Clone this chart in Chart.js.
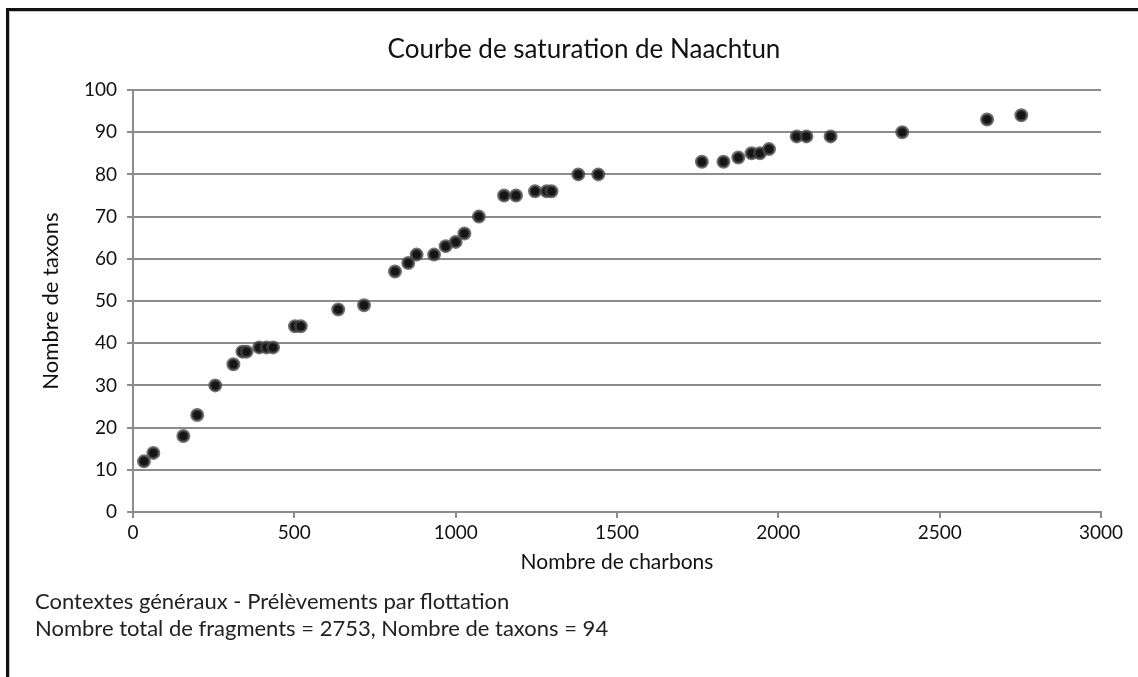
<!DOCTYPE html>
<html lang="fr">
<head>
<meta charset="utf-8">
<title>Courbe de saturation de Naachtun</title>
<script src="https://cdn.jsdelivr.net/npm/chart.js@4/dist/chart.umd.min.js"></script>
<style>
    html, body {
        margin: 0;
        padding: 0;
        background: #fff;
    }
    #page {
        position: relative;
        width: 1138px;
        height: 677px;
        overflow: hidden;
        font-family: Lato, "Open Sans", sans-serif;
        color: #111;
    }
    /* black frame on the left and top edges */
    #frame {
        position: absolute;
        left: 6px;
        top: 8px;
        width: 1140px;
        height: 680px;
        border-left: 3px solid #111;
        border-top: 3px solid #111;
        box-shadow: inset 1px 1px 0 #c4c4c4;
        pointer-events: none;
    }
    #chart-box {
        position: absolute;
        left: 0;
        top: 0;
        width: 1138px;
        height: 677px;
    }
    #chart-title {
        position: absolute;
        left: 284px;
        width: 600px;
        top: 32px;
        text-align: center;
        font-size: 26px;
        line-height: 32px;
    }
    #notes {
        position: absolute;
        left: 35px;
        top: 587px;
        font-size: 22px;
        line-height: 27px;
        color: #222;
    }
</style>
</head>
<body>
<div id="page">
    <div id="chart-box">
        <canvas id="saturation-chart" width="1138" height="677"></canvas>
    </div>
    <div id="frame"></div>
    <div id="chart-title"></div>
    <div id="notes">
        <div>Contextes généraux - Prélèvements par flottation</div>
        <div>Nombre total de fragments = 2753, Nombre de taxons = 94</div>
    </div>
</div>

<script>
// Cumulative counts: charcoal fragments examined vs. taxa identified
const charbons = [34, 63, 156, 199, 255, 311, 339, 352, 391, 414, 434, 502, 520, 636, 716,
    812, 853, 879, 933, 969, 1000, 1027, 1072, 1150, 1187, 1246, 1282, 1297, 1380, 1442,
    1763, 1830, 1876, 1917, 1943, 1971, 2057, 2087, 2162, 2384, 2647, 2753];
const taxons = [12, 14, 18, 23, 30, 35, 38, 38, 39, 39, 39, 44, 44, 48, 49,
    57, 59, 61, 61, 63, 64, 66, 70, 75, 75, 76, 76, 76, 80, 80,
    83, 83, 84, 85, 85, 86, 89, 89, 89, 90, 93, 94];

const xTicks = [0, 500, 1000, 1500, 2000, 2500, 3000];
const yTicks = [0, 10, 20, 30, 40, 50, 60, 70, 80, 90, 100];

const chartTitle = 'Courbe de saturation de Naachtun';
const xTitle = 'Nombre de charbons';
const yTitle = 'Nombre de taxons';

const FONT = 'Lato, "Open Sans", sans-serif';
const GRID = '#8c8c8c';

// title sits a little left of the plot centre, so it is laid out in html
document.getElementById('chart-title').textContent = chartTitle;

const points = charbons.map((x, i) => ({ x: x, y: taxons[i] }));

const ctx = document.getElementById('saturation-chart').getContext('2d');
new Chart(ctx, {
    type: 'scatter',
    data: {
        datasets: [{
            label: 'Taxons',
            data: points,
            pointRadius: 5.5,
            pointHoverRadius: 5.5,
            backgroundColor: '#151515',
            borderColor: 'rgba(70, 70, 70, 0.75)',
            borderWidth: 3
        }]
    },
    options: {
        responsive: false,
        animation: false,
        layout: {
            padding: { left: 0, right: 37, top: 90, bottom: 95 }
        },
        plugins: {
            legend: { display: false },
            tooltip: { enabled: false },
            title: { display: false }
        },
        scales: {
            x: {
                type: 'linear',
                min: 0,
                max: 3000,
                afterBuildTicks: scale => {
                    scale.ticks = xTicks.map(v => ({ value: v }));
                },
                afterFit: scale => {
                    scale.height = 70;
                },
                ticks: {
                    color: '#111',
                    font: { family: FONT, size: 19 },
                    padding: 3,
                    maxRotation: 0,
                    callback: value => String(value)
                },
                grid: {
                    drawOnChartArea: false,
                    drawTicks: true,
                    tickLength: 6,
                    color: GRID,
                    lineWidth: 2
                },
                border: { color: GRID, width: 2 },
                title: {
                    display: true,
                    text: xTitle,
                    color: '#111',
                    font: { family: FONT, size: 21 },
                    padding: { top: 0, bottom: 7 }
                }
            },
            y: {
                type: 'linear',
                min: 0,
                max: 100,
                afterBuildTicks: scale => {
                    scale.ticks = yTicks.map(v => ({ value: v }));
                },
                afterFit: scale => {
                    scale.width = 133;
                },
                ticks: {
                    color: '#111',
                    font: { family: FONT, size: 19 },
                    padding: 10,
                    callback: value => String(value)
                },
                grid: {
                    drawOnChartArea: true,
                    drawTicks: true,
                    tickLength: 6,
                    color: GRID,
                    lineWidth: 2
                },
                border: { color: GRID, width: 2 },
                title: {
                    display: true,
                    text: yTitle,
                    color: '#111',
                    font: { family: FONT, size: 22 },
                    padding: { top: 38, bottom: 0 }
                }
            }
        }
    }
});
</script>
</body>
</html>
